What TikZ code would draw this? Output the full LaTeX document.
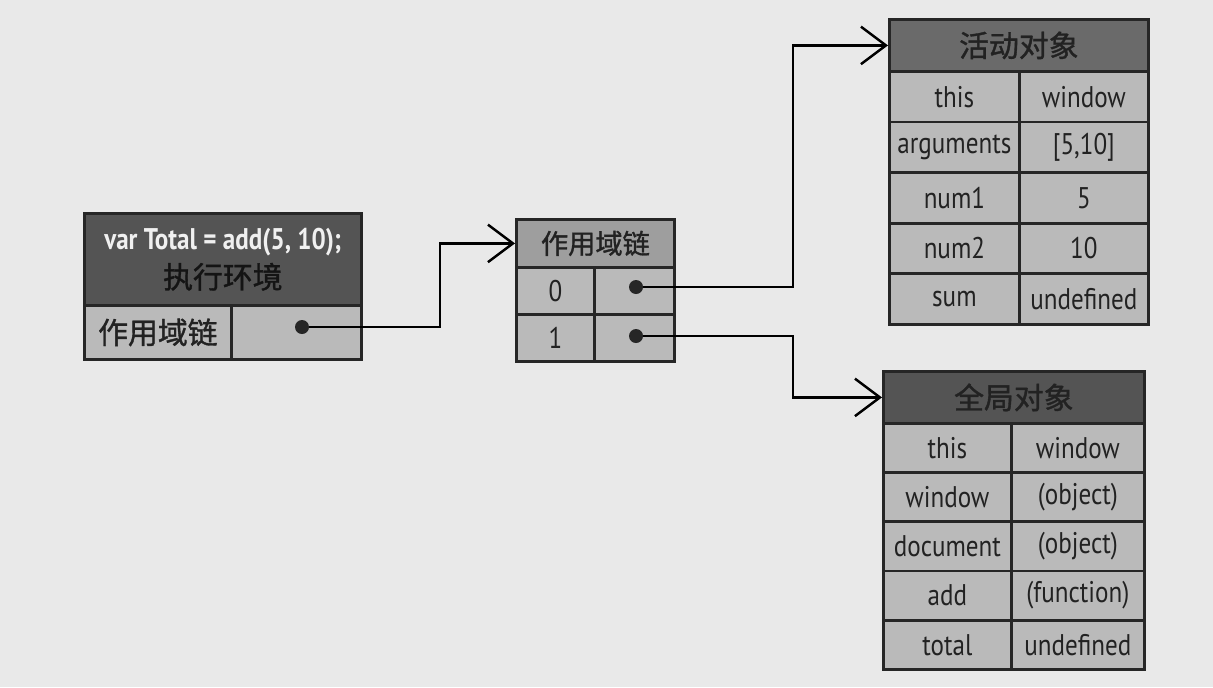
\documentclass[tikz,border=0pt]{standalone}
\usepackage{fontspec}
\setmainfont{PT Sans}[FakeStretch=0.84]
\newfontfamily\cjk{Noto Sans CJK SC}[FakeBold=1.2]
\usetikzlibrary{arrows.meta}
\definecolor{paper}{RGB}{233,233,233}
\definecolor{cellgray}{RGB}{186,186,186}
\definecolor{headdark}{RGB}{84,84,84}
\definecolor{headmid}{RGB}{106,106,106}
\definecolor{headlight}{RGB}{158,158,158}
\definecolor{inkgray}{RGB}{34,34,34}

\begin{document}
\begin{tikzpicture}[x=0.02cm,y=-0.02cm,
	box/.style={draw=black!85, line width=1.6pt, inner sep=0pt, anchor=north west,
		fill=cellgray, text=inkgray, font=\fontsize{17}{19}\selectfont},
	headfont/.style={font=\cjk\fontsize{17}{19}\selectfont},
	link/.style={line width=1.4pt, -{Straight Barb[length=5mm,width=7.5mm,line width=1.4pt]}},
	dot/.style={circle, fill=black!85, inner sep=0pt, minimum size=0.28cm}]

	\path[use as bounding box, fill=paper] (0,0) rectangle (1213,687);

	\node[box, fill=headdark, minimum width=5.54cm, minimum height=1.84cm, align=center,
		font=\fontsize{17}{22}\selectfont] (ec) at (83,212)
		{\textcolor{white!94!black}{\bfseries var Total = add(5, 10);}\\{\cjk\color{black!92}执行环境}};
	\node[box, minimum width=2.94cm, minimum height=1.08cm, headfont] (eckey) at (83,304) {作用域链};
	\node[box, minimum width=2.6cm, minimum height=1.08cm] (ecval) at (230,304) {};
	\node[dot] (ecdot) at (302,327) {};

	\node[box, fill=headlight, minimum width=3.16cm, minimum height=0.96cm,
		font=\cjk\fontsize{15.5}{17}\selectfont] (sc) at (515,218) {作用域链};
	\foreach \i in {0,1} {
		\node[box, minimum width=1.56cm, minimum height=0.94cm] (sck\i) at (515,{266+47*\i}) {\i};
		\node[box, minimum width=1.6cm, minimum height=0.94cm] (scv\i) at (593,{266+47*\i}) {};
		\node[dot] (scdot\i) at (636,{287+49*\i}) {};
	}

	\node[box, fill=headmid, minimum width=5.18cm, minimum height=1.04cm, headfont] (ao) at (888,18) {活动对象};
	\foreach \k/\v [count=\i from 0] in {this/window, arguments/{[5,10]}, num1/5, num2/10, sum/undefined} {
		\node[box, minimum width=2.6cm, minimum height=1.012cm] (aok\i) at (888,{70+50.6*\i}) {\k};
		\node[box, minimum width=2.58cm, minimum height=1.012cm] (aov\i) at (1018,{70+50.6*\i}) {\v};
	}

	\node[box, fill=headdark, minimum width=5.22cm, minimum height=1.04cm, headfont] (go) at (882,370) {全局对象};
	\foreach \k/\v [count=\i from 0] in {this/window, window/(object), document/(object), add/(function), total/undefined} {
		\node[box, minimum width=2.56cm, minimum height=0.984cm] (gok\i) at (882,{422+49.2*\i}) {\k};
		\node[box, minimum width=2.66cm, minimum height=0.984cm] (gov\i) at (1010,{422+49.2*\i}) {\v};
	}

	\coordinate (bend1) at (440,327);
	\coordinate (bend2) at (793,287);
	\coordinate (bend3) at (793,336);
	\draw[link] (ecdot) -- (bend1) |- (sc.west);
	\draw[link] (scdot0) -- (bend2) |- (ao.west);
	\draw[link] (scdot1) -- (bend3) |- (go.west);

\end{tikzpicture}
\end{document}
